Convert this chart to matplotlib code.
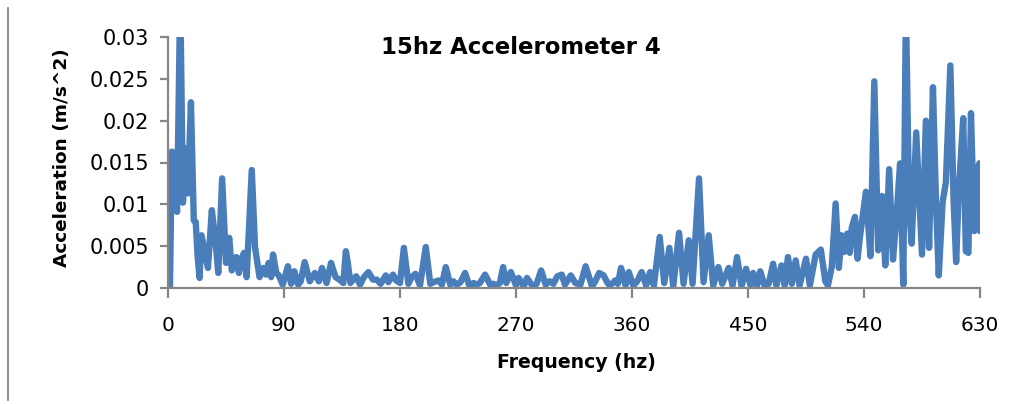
import numpy as np
import matplotlib
matplotlib.use("Agg")
import matplotlib.pyplot as plt
from matplotlib.lines import Line2D

plt.rcParams['font.family'] = ['DejaVu Sans']

# spectre (frequence en hz, acceleration en m/s^2)
freq = [1.5, 3, 5, 7, 9.5, 11.6, 13.5, 15.5, 17.8, 20, 21.5, 23, 24.5, 26, 31, 34, 37, 39, 42, 45,
        47.5, 49.5, 53, 55, 57, 59, 61, 65, 67.5, 71, 74, 76, 78, 80, 81.5, 84, 86, 89, 93, 95.5,
        98, 101, 103, 106, 110, 114, 117, 119.5, 123, 126.5, 130, 133, 136, 138, 139.5, 141.5, 146, 149, 152, 155.5,
        159, 162, 165, 169, 171, 174.5, 177, 180, 183, 186.5, 189, 192, 195.5, 200, 203.5, 206, 210, 212.5, 215.5, 219,
        221.5, 224, 227, 230.5, 234, 237, 239.5, 242, 246, 250, 252.5, 255, 257.5, 260, 262.5, 266, 270, 272, 276, 278.5,
        283, 286, 289.5, 293, 296, 299, 302, 305.5, 308, 312.5, 316, 320, 324, 329, 331.5, 334.5, 338, 341, 343, 347,
        349, 351.5, 355, 357.5, 361, 364, 367.5, 371, 374, 377, 381.5, 385, 389, 392, 396.5, 400, 404, 407, 412, 415.5,
        419.5, 423, 427, 430, 435, 438, 441.5, 445, 448.5, 452, 454, 457, 459.5, 463, 466, 469.5, 472, 476, 478.5, 481,
        484, 487, 490, 495, 498, 502.5, 506.5, 510, 512, 515, 518, 520.5, 522.5, 524.5, 527, 529, 530.5, 533, 535, 537,
        541.5, 545, 548, 551, 554, 556.5, 559.5, 562.5, 565.5, 568, 570.5, 572.5, 575, 577, 580.5, 585, 588, 590.5, 593.5, 596,
        598, 601, 603.5, 607, 609.5, 611.5, 613.5, 617, 619, 621, 623, 625.5, 628, 629.5, 630]
accel = [0, 0.0163, 0.0160, 0.0091, 0.035, 0.0102, 0.0167, 0.0113, 0.0222, 0.0081, 0.0079, 0.0037, 0.0012, 0.0063, 0.0024, 0.0093, 0.0054, 0.0018, 0.0131, 0.003,
         0.006, 0.0021, 0.0037, 0.0018, 0.0035, 0.0042, 0.0013, 0.0141, 0.0049, 0.0013, 0.0024, 0.0016, 0.003, 0.0013, 0.004, 0.0018, 0.0015, 0.0004, 0.0026, 0.0005,
         0.002, 0.0004, 0.0008, 0.0031, 0.0008, 0.0018, 0.0008, 0.0024, 0.0006, 0.003, 0.0013, 0.001, 0.0006, 0.0044, 0.003, 0.0006, 0.0014, 0.0004, 0.0013, 0.0019,
         0.001, 0.001, 0.0005, 0.0015, 0.0007, 0.0016, 0.0009, 0.0006, 0.0048, 0.0005, 0.0013, 0.0017, 0.0003, 0.0049, 0.0005, 0.0007, 0.0009, 0.0004, 0.0025, 0.0004,
         0.0008, 0.0004, 0.0007, 0.0018, 0.0002, 0.0006, 0.0004, 0.0006, 0.0016, 0.0004, 0.0005, 0.0003, 0.0006, 0.0025, 0.0006, 0.0019, 0.0003, 0.0012, 0.0002, 0.0012,
         0.0002, 0.0005, 0.0021, 0.0004, 0.0008, 0.0005, 0.0014, 0.0016, 0.0004, 0.0015, 0.0006, 0.0004, 0.0026, 0.0002, 0.0008, 0.0018, 0.0015, 0.0006, 0.0003, 0.0009,
         0.0005, 0.0024, 0.0003, 0.0019, 0.0003, 0.0008, 0.0019, 0.0003, 0.0019, 0.0003, 0.0061, 0.0006, 0.0048, 0.0002, 0.0066, 0.0005, 0.0057, 0.0005, 0.0131, 0.0007,
         0.0063, 0.0003, 0.0025, 0.0005, 0.0024, 0.0003, 0.0037, 0.0002, 0.0023, 0.0003, 0.0018, 0.0003, 0.002, 0.0002, 0.0005, 0.0029, 0.0003, 0.0027, 0.0003, 0.0037,
         0.0005, 0.0033, 0.0003, 0.0035, 0.0003, 0.004, 0.0046, 0.0008, 0.0003, 0.0025, 0.0101, 0.0024, 0.0063, 0.0043, 0.0065, 0.0042, 0.0072, 0.0085, 0.0035, 0.0063,
         0.0115, 0.0038, 0.0247, 0.0045, 0.011, 0.0027, 0.0142, 0.0034, 0.0092, 0.0149, 0.0004, 0.034, 0.0095, 0.0053, 0.0186, 0.004, 0.02, 0.0048, 0.024, 0.0095,
         0.0015, 0.0103, 0.0126, 0.0266, 0.0105, 0.0031, 0.0115, 0.0203, 0.0044, 0.0042, 0.0209, 0.0068, 0.0142, 0.0149, 0.0068]

xticks = [0, 90, 180, 270, 360, 450, 540, 630]
yticks = [0, 0.005, 0.01, 0.015, 0.02, 0.025, 0.03]
ytick_labels = ["0", "0.005", "0.01", "0.015", "0.02", "0.025", "0.03"]

gris = "#868686"
bleu = "#4A7EBB"

fig = plt.figure(figsize=(10.17, 4.04), dpi=100)
ax = fig.add_axes([168/1017, 1-288/404, (980-168)/1017, (288-37)/404])

ax.plot(freq, accel, color=bleu, lw=4.6, solid_joinstyle='round', solid_capstyle='round')

ax.set_xlim(0, 630)
ax.set_ylim(0, 0.03)
ax.set_xticks(xticks)
ax.set_yticks(yticks)
ax.set_yticklabels(ytick_labels)

for s in ["top", "right"]:
    ax.spines[s].set_visible(False)
for s in ["left", "bottom"]:
    ax.spines[s].set_color(gris)
    ax.spines[s].set_linewidth(1.6)

ax.tick_params(axis='x', direction='out', length=7, width=1.6, color=gris, pad=13, labelsize=14.5)
ax.tick_params(axis='y', direction='out', length=5.5, width=1.6, color=gris, pad=8, labelsize=15)

fig.text(521/1017, 1-47/404, "15hz Accelerometer 4", ha='center', va='center', fontsize=16.4, fontweight='bold')
fig.text(576/1017, 1-363/404, "Frequency (hz)", ha='center', va='center', fontsize=13.6, fontweight='bold')
fig.text(62/1017, 1-158/404, "Acceleration (m/s^2)", ha='center', va='center', rotation=90, fontsize=13.3, fontweight='bold')

# bord gauche du cadre
fig.add_artist(Line2D([8/1017, 8/1017], [1-8/404, 1-400/404], color=gris, lw=1.3, transform=fig.transFigure))

fig.savefig("out.png", dpi=100)
